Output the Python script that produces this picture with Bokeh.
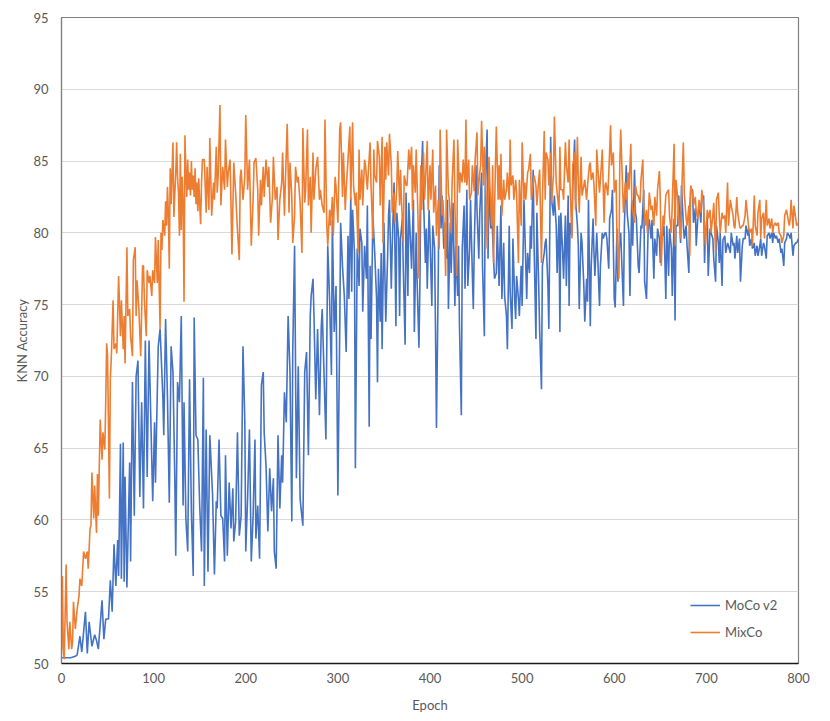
from bokeh.plotting import figure
from bokeh.models import Range1d, FixedTicker, Legend, LegendItem
from bokeh.embed import file_html
from bokeh.resources import INLINE

# ---------------- data (epoch, KNN accuracy) ----------------
moco_seg1 = [(0,50.4),(5,50.4),(10,50.4),(15,50.5),(17,50.6),(20,51.9),(22,50.8),(26,53.6),(28,50.7),(30,52.9),
 (33,51.2),(36,52.0),(38,51.6),(40,51.0),(44,54.4),(46,51.7),(48,53.1),(51,53.1),(53,55.8),(55,53.6),(57,58.3),
 (59,55.4),(61,58.6),(62,56.1),(64,65.3),(65,55.9),(67,65.4),(68,55.7),(69,63.0),(71,55.3),(74,64.0),(75,57.1),
 (77,69.6),(79,60.3),(81,70.0),(83,71.1),(85,61.6),(87,68.2),(89,60.8),(91,72.5),(93,63.0),(95,72.5),(97,66.9),
 (99,61.3),(101,66.8),(102,62.6),(105,72.1),(107,73.3),(110,68.6),(111,65.9),(113,74.0),(115,68.6),(117,61.2),
 (119,72.1),(121,70.3),(123,62.8),(124,57.5),(126,69.6),(128,68.2),(130,74.2),(132,61.0),(133,68.2),(135,60.1),
 (137,57.8),(139,69.8),(141,60.5),(143,56.1),(144,74.1),(146,65.9),(148,65.6),(150,61.0),(152,57.8),(154,69.9),
 (155,55.4),(157,66.3)]
moco_seg2 = [(159,56.4),(161,65.9),(164,61.7),(166,56.2),(168,61.3),(169,60.8),(171,65.6),(173,60.3),(175,60.1),
 (177,57.1),(178,64.5),(180,57.5),(182,62.6),(184,59.4),(186,62.2),(187,58.5),(189,59.9),(191,66.1),(193,58.9),
 (195,60.3),(197,72.1),(199,66.8),(200,57.8),(202,61.5),(204,66.3),(206,57.1),(208,60.3),(210,65.6),(211,58.7),
 (213,61.0),(215,57.3),(217,69.4),(219,70.3),(220,66.1),(222,63.8),(224,59.2),(226,63.6),(228,60.6),(230,62.9),
 (231,57.8),(233,56.6),(235,65.9),(237,60.8),(239,64.5),(240,62.6),(242,68.9),(244,66.8),(246,74.2),(248,70.3),
 (250,59.9),(251,71.7),(253,79.1),(255,62.9),(257,70.7),(259,61.5),(260,60.8),(262,59.6),(264,70.3),(266,71.7),
 (268,64.5),(270,74.2),(271,75.6),(273,76.8),(274,74.4),(276,68.4),(278,73.3),(280,67.3),(282,73.5),(283,74.7),
 (285,70.1),(287,65.6),(289,79.1),(291,75.4),(293,70.1),(294,80.9),(296,73.1),(298,76.3),(300,61.7),(302,73.1),
 (303,80.7),(305,77.7),(307,75.6),(309,71.7),(311,79.8),(312,75.4),(314,82.5)]
moco_seg3 = [(315,75.9),(316,81.6),(318,78.6),(319,63.6),(321,78.9),(323,76.3),(324,80.3),(326,79.3),(327,74.5),
 (329,79.1),(331,76.8),(332,81.9),(334,66.5),(335,77.7),(336,72.6),(338,81.2),(340,78.6),(342,75.4),(343,69.6),
 (344,77.5),(346,73.8),(347,78.6),(348,71.9),(350,80.7),(352,73.8),(354,78.4),(355,81.2),(356,82.3),(358,76.1),
 (359,79.1),(361,83.5),(363,73.5),(364,81.4),(366,79.6),(367,74.2),(368,79.6),(370,81.0),(371,77.5),(373,72.2),
 (374,82.8),(376,75.6),(377,82.1),(379,79.1),(380,77.5),(382,82.3),(383,73.1),(385,80.0),(386,76.6),(388,72.0),
 (389,76.3),(390,82.8),(392,86.4),(393,82.3),(395,77.9),(396,80.3),(397,76.1),(399,81.6),(400,79.6),(402,74.9),
 (403,80.5),(405,78.9),(406,73.1),(407,66.4),(409,77.2),(410,84.7),(412,80.3),(413,82.6),(415,78.9),(416,80.7),
 (418,78.2),(419,82.3),(420,74.7),(422,80.7),(423,77.2),(425,82.1),(427,74.9),(428,79.1),(430,75.6),(431,79.1),
 (432,73.5),(434,67.3),(435,78.9),(437,81.9),(438,76.1),(440,83.0),(441,76.3),(443,78.9),(444,82.3),(446,77.0),
 (447,74.7),(448,78.9),(450,84.7),(451,81.6),(453,78.2),(454,81.4),(456,84.2),(457,77.7),(459,72.8),(460,83.5),
 (462,87.2),(463,78.2),(464,83.3),(466,80.3),(467,81.4),(469,78.2),(470,76.8),(472,77.2),(473,80.5),(475,76.3)]
moco_seg4 = [(476,79.1),(477,81.9),(478,75.4),(480,79.3),(481,75.6),(483,74.2),(484,71.9),(486,80.5),(487,75.9),
 (489,73.3),(490,79.6),(492,75.2),(493,74.0),(494,77.0),(496,75.4),(497,74.2),(499,77.7),(500,74.9),(502,82.3),
 (503,80.0),(505,75.4),(506,78.6),(508,77.2),(509,80.5),(510,78.9),(512,84.4),(513,79.1),(515,72.6),(516,81.4),
 (518,76.3),(519,73.3),(521,69.1),(522,77.7),(524,78.6),(525,79.3),(526,79.6),(528,76.3),(529,73.3),(531,86.7),
 (532,82.3),(534,81.2),(535,82.6),(537,80.5),(538,77.2),(540,81.2),(541,73.1),(542,81.4),(544,78.6),(545,76.8),
 (547,81.2),(548,76.3),(550,82.6),(551,74.9),(552,80.7),(554,79.8),(555,83.3),(557,86.5),(558,82.3),(560,80.5),
 (561,79.1),(562,74.7),(564,80.0),(565,79.3),(567,76.3),(568,73.8),(570,76.8),(571,75.2),(572,82.3),(574,73.5),
 (575,77.7),(577,81.0),(578,78.6),(579,77.0),(581,80.0),(582,78.4),(584,74.9),(585,77.7),(587,80.0),(588,79.6),
 (590,80.0),(591,80.0),(592,79.6),(594,77.5),(595,81.0),(597,81.6),(598,83.0),(600,75.4),(601,74.8),(603,80.3),
 (604,76.6),(606,79.6),(607,80.0),(608,78.2),(610,74.9),(611,80.5),(613,84.7),(614,81.4),(616,80.0),(617,75.6),
 (619,82.3),(620,79.1),(622,84.4),(623,81.4),(624,81.0),(626,77.7),(627,77.2),(629,80.5),(630,80.3),(632,83.0),
 (633,76.6),(635,75.4)]
moco_seg5 = [(637,80.9),(638,80.9),(640,79.6),(641,80.9),(643,76.8),(644,79.6),(646,78.4),(647,80.3),(649,79.6),
 (650,77.9),(651,80.0),(653,79.8),(654,80.5),(656,75.4),(657,80.5),(659,77.0),(660,80.3),(662,78.9),(663,75.6),
 (665,81.0),(666,73.9),(667,80.5),(669,80.5),(670,82.6),(672,79.3),(673,83.3),(675,80.5),(676,79.6),(678,80.5),
 (679,79.1),(681,77.2),(682,81.7),(683,83.0),(685,83.0),(686,80.7),(688,81.7),(689,79.1),(691,81.4),(692,82.1),
 (694,80.7),(695,82.3),(697,82.6),(698,77.9),(699,80.0),(701,81.2),(702,77.0),(704,80.3),(705,80.0),(707,79.6),
 (708,78.2),(710,76.6),(711,80.5),(713,79.3),(714,77.9),(715,80.0),(717,76.3),(718,79.5),(720,79.8),(721,78.6),
 (723,79.3),(724,79.1),(726,78.6),(727,80.0),(729,79.1),(730,79.3),(731,78.2),(733,79.8),(734,78.6),(736,79.6),
 (737,76.6),(739,79.1),(740,79.6),(742,79.6),(743,80.5),(745,79.8),(746,80.3),(747,79.1),(749,79.6),(750,78.9),
 (752,79.3),(753,78.4),(755,79.1),(756,78.4),(758,79.1),(759,79.6),(760,78.4),(762,79.3),(763,79.1),(765,78.2),
 (766,79.8),(768,80.0),(769,79.6),(771,80.0),(772,79.3),(773,80.0),(775,79.6),(776,79.8),(778,79.3),(779,79.6),
 (781,78.6),(782,78.9),(784,77.7),(785,79.3),(787,79.6),(788,80.0),(790,79.8),(791,79.6),(792,80.0),(794,78.4),
 (795,79.1),(797,79.3),(798,79.3),(800,79.6)]

mixco_seg1 = [(0,51.0),(1,56.1),(2,50.8),(3,50.3),(5,56.9),(6,52.9),(8,51.0),(9,52.9),(11,51.0),(12,51.5),
 (13,54.3),(15,52.4),(17,53.8),(19,54.7),(20,55.9),(22,55.4),(24,57.8),(26,57.3),(28,57.8),(29,56.6),(31,59.4),
 (32,59.6),(33,63.3),(35,60.1),(36,62.4),(38,59.1),(39,63.2),(40,60.3),(42,67.0),(44,64.2),(45,66.1),(47,64.9),
 (48,68.2),(49,72.3),(50,71.4),(52,61.5),(53,69.8),(54,71.2),(56,75.3),(57,71.9),(59,72.3),(60,71.6),(62,77.0),
 (64,72.8),(65,75.3),(67,71.9),(68,74.2),(69,70.9),(71,79.0),(72,74.2),(74,74.7),(75,72.8),(77,71.4),(78,78.1),
 (80,79.0),(81,74.2),(82,76.7),(84,74.7),(86,71.4),(88,77.7),(89,77.7),(90,75.3),(92,72.8),(93,77.4),(95,76.5),
 (96,77.0),(98,75.6),(99,77.4),(101,76.5),(102,79.7),(104,76.5),(105,79.5),(107,73.3),(108,80.0),(109,78.8),
 (110,80.9),(112,79.8),(113,82.2),(114,80.5),(115,83.2),(116,81.4),(117,77.5),(118,84.5),(119,82.0),(121,86.3),
 (122,81.1),(123,82.7),(124,84.1),(125,86.3),(126,83.8),(127,82.8),(128,79.8),(129,85.5),(130,80.2),(131,83.9),
 (132,82.0),(133,75.2),(134,86.8),(135,84.3),(136,82.5),(137,85.1),(138,83.0),(139,84.2),(140,82.6),(141,85.0),
 (142,83.0),(143,84.0),(144,82.5),(145,84.5),(146,82.0),(147,83.5),(148,81.5),(149,83.8),(150,82.0),(151,80.6),
 (152,83.5),(153,85.1),(155,85.1)]
mixco_seg2 = [(157,81.4),(158,84.6),(160,81.6),(161,86.6),(163,81.2),(165,83.5),(166,82.3),(168,86.0),(169,82.8),
 (170,83.9),(172,88.9),(173,81.9),(175,84.6),(177,83.0),(178,86.5),(180,83.2),(181,84.2),(183,85.1),(184,81.9),
 (185,78.5),(187,84.9),(189,82.8),(191,80.2),(193,78.1),(194,83.9),(195,84.4),(197,82.3),(199,83.9),(200,88.2),
 (202,83.0),(204,85.1),(206,79.1),(208,82.3),(209,84.9),(211,85.2),(213,83.0),(214,79.8),(216,83.7),(217,81.9),
 (219,84.6),(220,82.5),(222,85.1),(224,83.2),(225,84.6),(227,80.7),(229,82.5),(230,85.3),(232,82.3),(234,83.2),
 (235,79.5),(237,82.3),(239,83.5),(240,85.6),(242,81.2),(243,83.5),(245,87.6),(247,81.4),(248,84.9),(250,82.5),
 (251,79.3),(253,81.2),(254,84.6),(256,83.5),(257,83.9),(259,82.1),(261,78.6),(262,87.3),(264,82.1),(265,83.0),
 (267,87.2),(268,81.9),(270,83.9),(271,80.0),(273,85.6),(274,82.3),(276,84.4),(278,85.3),(280,82.3),(281,83.0),
 (283,81.9),(285,81.4),(286,87.9),(288,80.5),(289,79.1),(291,81.6),(292,80.5),(294,82.5),(295,79.8),(297,83.9),
 (298,83.2),(300,80.7),(302,87.2),(303,87.7),(305,82.5),(306,85.6),(308,81.6),(309,83.0),(311,85.1),(313,87.4)]
mixco_seg3 = [(314,82.3),(316,87.7),(317,83.3),(319,81.9),(320,82.8),(322,78.6),(323,85.8),(324,82.3),(326,84.4),
 (327,81.9),(329,85.1),(330,84.7),(332,83.0),(333,84.2),(335,86.3),(336,83.3),(338,79.6),(339,85.8),(340,84.0),
 (342,83.5),(343,86.4),(345,85.3),(346,81.9),(348,86.7),(349,79.3),(351,86.0),(352,83.7),(353,86.3),(355,84.0),
 (356,86.9),(358,84.7),(359,81.4),(361,82.8),(362,80.7),(364,83.3),(365,85.7),(367,81.9),(368,84.4),(369,82.3),
 (371,79.3),(372,84.0),(374,83.3),(375,83.3),(377,85.8),(378,84.4),(380,86.0),(381,81.6),(382,84.7),(384,82.8),
 (385,85.8),(387,81.0),(388,76.8),(390,84.7),(391,81.6),(393,85.6),(394,82.3),(396,84.9),(397,86.4),(398,81.6),
 (400,84.7),(401,82.3),(403,85.8),(404,81.4),(406,83.3),(407,79.8),(409,82.3),(410,78.9),(411,87.2),(413,81.2),
 (414,82.3),(416,79.6),(417,77.0),(418,87.2),(420,82.8),(421,82.3),(423,80.0),(424,83.5),(426,86.5),(427,81.9),
 (429,77.0),(430,86.5),(432,82.8),(433,84.2),(435,83.5),(436,85.1),(438,83.5),(439,87.9),(440,83.3),(442,85.1),
 (443,82.3),(445,82.8),(446,84.7),(448,82.9),(449,85.1),(451,87.0),(452,82.6),(454,84.2),(455,84.7),(456,87.8),
 (458,83.3),(459,86.0),(461,82.3),(462,78.9),(464,85.3),(465,83.3),(467,80.5),(468,84.7),(469,77.9),(471,84.7),
 (472,87.4),(474,82.3),(475,84.7)]
mixco_seg4 = [(476,82.3),(477,85.5),(478,81.2),(480,83.7),(481,82.3),(483,83.0),(484,84.2),(486,82.3),(487,86.5),
 (488,83.3),(490,84.0),(491,82.3),(493,83.7),(494,82.8),(496,77.9),(497,83.7),(499,80.5),(500,86.3),(502,82.3),
 (503,83.5),(504,82.3),(506,84.2),(507,84.4),(509,85.5),(510,82.3),(512,83.5),(513,84.0),(515,83.3),(516,81.9),
 (518,83.7),(519,84.4),(521,77.9),(522,82.3),(524,87.1),(525,82.3),(526,85.6),(528,85.1),(529,83.3),(531,85.6),
 (532,82.1),(534,84.0),(535,88.1),(537,83.5),(538,82.8),(540,81.6),(541,86.0),(542,83.0),(544,83.0),(545,82.3),
 (547,86.3),(548,84.7),(550,83.5),(551,86.5),(552,83.3),(554,79.6),(555,84.7),(557,85.6),(558,81.6),(560,86.7),
 (561,83.5),(562,81.4),(564,85.3),(565,82.6),(567,83.3),(568,83.7),(570,82.3),(571,83.3),(573,84.7),(574,84.9),
 (575,83.7),(577,84.2),(578,83.3),(580,80.5),(581,85.8),(583,83.7),(584,82.8),(586,84.7),(587,85.8),(589,80.7),
 (590,83.3),(591,83.5),(593,82.6),(594,84.0),(596,87.5),(597,84.7),(599,85.6),(600,82.8),(602,83.7),(603,79.6),
 (605,76.8),(606,84.7),(607,87.2),(609,83.3),(610,81.4),(612,83.5),(613,82.3),(615,84.2),(616,83.0),(618,86.2),
 (619,82.3),(620,81.6),(622,80.7),(623,83.3),(625,82.6),(626,82.6),(628,82.1),(629,83.7),(631,85.1),(632,81.9),
 (634,80.5),(635,81.6),(636,80.0)]
mixco_seg5 = [(637,81.2),(638,82.8),(640,81.6),(641,81.9),(643,80.5),(644,82.5),(646,81.2),(647,83.0),(649,84.3),
 (650,82.3),(651,77.7),(653,81.2),(654,80.5),(656,82.6),(657,82.8),(659,83.0),(660,81.2),(662,80.0),(663,82.1),
 (665,86.2),(666,79.1),(667,83.7),(669,82.3),(670,81.2),(672,79.6),(673,82.3),(675,86.3),(676,82.8),(678,81.0),
 (679,80.5),(681,81.9),(682,78.4),(683,83.3),(685,82.8),(686,81.9),(688,82.5),(689,81.4),(691,81.0),(692,82.3),
 (694,81.4),(695,83.0),(697,81.9),(698,80.3),(699,79.1),(701,81.6),(702,81.0),(704,81.6),(705,80.0),(707,81.2),
 (708,82.1),(710,78.6),(711,82.3),(713,82.8),(714,81.2),(715,80.0),(717,81.4),(718,81.0),(720,81.2),(721,80.0),
 (723,83.5),(724,80.5),(726,82.3),(727,81.9),(729,81.2),(730,80.5),(731,80.3),(733,82.5),(734,81.4),(736,80.5),
 (737,80.3),(739,80.5),(740,80.5),(742,81.2),(743,82.3),(745,81.0),(746,80.3),(747,80.0),(749,80.3),(750,79.1),
 (752,82.6),(753,80.5),(755,79.8),(756,81.4),(758,82.3),(759,79.6),(760,81.0),(762,81.4),(763,79.6),(765,82.3),
 (766,80.5),(768,81.0),(769,80.3),(771,81.0),(772,80.0),(773,80.5),(775,80.7),(776,80.5),(778,80.7),(779,80.0),
 (781,79.8),(782,79.3),(784,79.8),(785,81.2),(787,81.6),(788,81.2),(790,80.5),(791,81.0),(792,82.3),(794,80.3),
 (795,81.9),(797,81.0),(798,80.5),(800,80.7)]

x_ticks = [0, 100, 200, 300, 400, 500, 600, 700, 800]
y_ticks = [50, 55, 60, 65, 70, 75, 80, 85, 90, 95]
series_names = ["MoCo v2", "MixCo"]

moco = moco_seg1 + moco_seg2 + moco_seg3 + moco_seg4 + moco_seg5
mixco = mixco_seg1 + mixco_seg2 + mixco_seg3 + mixco_seg4 + mixco_seg5

FONT = "Lato"
TXT = "#595959"

p = figure(width=820, height=715, x_range=Range1d(0, 800), y_range=Range1d(50, 95),
           output_backend="svg", toolbar_location=None,
           min_border_left=61, min_border_right=22, min_border_top=17, min_border_bottom=48)
p.background_fill_color = "white"
p.border_fill_color = "white"
p.outline_line_color = "#808080"
p.outline_line_width = 1.2

r1 = p.line([e for e, v in moco], [v for e, v in moco], line_color="#4472C4", line_width=1.6)
r2 = p.line([e for e, v in mixco], [v for e, v in mixco], line_color="#ED7D31", line_width=1.6)

p.xaxis.ticker = FixedTicker(ticks=x_ticks)
p.yaxis.ticker = FixedTicker(ticks=y_ticks)
p.xgrid.visible = False
p.ygrid.grid_line_color = "#D9D9D9"
p.ygrid.grid_line_width = 1

for ax in (p.xaxis[0], p.yaxis[0]):
    ax.major_tick_line_color = None
    ax.minor_tick_line_color = None
    ax.major_tick_out = 0
    ax.major_tick_in = 0
    ax.major_label_text_font = FONT
    ax.major_label_text_font_size = "13px"
    ax.major_label_text_color = TXT
    ax.axis_label_text_font = FONT
    ax.axis_label_text_font_size = "13px"
    ax.axis_label_text_color = TXT
    ax.axis_label_text_font_style = "normal"

p.xaxis.axis_line_color = "#1a1a1a"
p.xaxis.axis_line_width = 1.3
p.yaxis.axis_line_color = "#808080"
p.yaxis.axis_line_width = 1.2
p.xaxis.major_label_standoff = 9
p.yaxis.major_label_standoff = 13
p.xaxis.axis_label = "Epoch"
p.yaxis.axis_label = "KNN Accuracy"
p.xaxis.axis_label_standoff = 11
p.yaxis.axis_label_standoff = 0

legend = Legend(items=[LegendItem(label=series_names[0], renderers=[r1]),
                       LegendItem(label=series_names[1], renderers=[r2])],
                location=(629, 21), orientation="vertical",
                border_line_color=None, background_fill_alpha=0,
                label_text_font=FONT, label_text_font_size="13px", label_text_color=TXT,
                glyph_width=30, glyph_height=20, label_height=20, spacing=7,
                padding=0, margin=0, label_standoff=5)
p.add_layout(legend)

open("out.html", "w").write(file_html(p, INLINE))
